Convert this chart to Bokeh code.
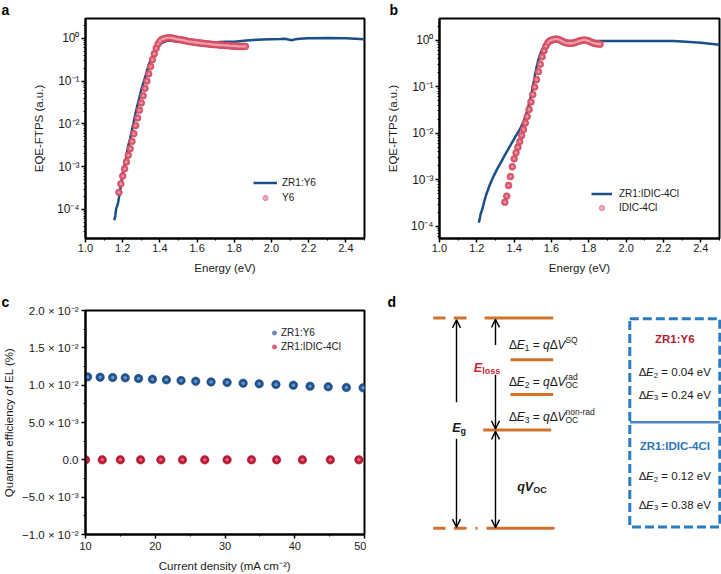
from bokeh.plotting import figure
from bokeh.models import (Range1d, FixedTicker, CustomJSTickFormatter, NumeralTickFormatter,
                          Legend, LegendItem, Arrow, OpenHead)
from bokeh.layouts import row, column
from bokeh.core.properties import value
from bokeh.embed import file_html
from bokeh.resources import INLINE

FONT = "Liberation Sans"

# ---------------- data ----------------
# panel a : ZR1:Y6 (line) and Y6 (markers); values are log10(EQE-FTPS)
a_zr1_E = [1.155, 1.160, 1.165, 1.170, 1.175, 1.180, 1.190, 1.200, 1.210, 1.220, 1.230, 1.240,
           1.250, 1.260, 1.270, 1.280, 1.290, 1.300, 1.310, 1.320, 1.330, 1.340, 1.350, 1.360,
           1.370, 1.380, 1.390, 1.400, 1.410, 1.420, 1.440, 1.460, 1.480, 1.500, 1.550, 1.600,
           1.700, 1.750, 1.800, 1.850, 1.900, 1.950, 2.000, 2.050, 2.070, 2.090, 2.110, 2.130,
           2.150, 2.200, 2.300, 2.400, 2.450, 2.500]
a_zr1_log = [-4.25, -4.15, -3.98, -3.92, -3.85, -3.72, -3.45, -3.15, -2.96, -2.76, -2.50, -2.35,
             -2.14, -1.94, -1.73, -1.55, -1.38, -1.20, -1.06, -0.92, -0.77, -0.62, -0.52, -0.43,
             -0.35, -0.27, -0.20, -0.15, -0.11, -0.09, -0.06, -0.06, -0.07, -0.08, -0.09, -0.09,
             -0.09, -0.08, -0.08, -0.06, -0.04, -0.03, -0.02, -0.015, -0.01, -0.03, -0.045, -0.02,
             -0.01, 0.00, 0.005, 0.00, -0.01, -0.025]
a_y6_E = [1.18, 1.19, 1.20, 1.21, 1.22, 1.23, 1.24, 1.25, 1.26, 1.27, 1.28, 1.29, 1.30, 1.31,
          1.32, 1.33, 1.34, 1.35, 1.36, 1.37, 1.38, 1.39, 1.40, 1.41, 1.42, 1.43, 1.44, 1.45,
          1.46, 1.47, 1.48, 1.49, 1.50, 1.51, 1.52, 1.53, 1.54, 1.55, 1.56, 1.57, 1.58, 1.59,
          1.60, 1.61, 1.62, 1.63, 1.64, 1.65, 1.66, 1.67, 1.68, 1.69, 1.70, 1.71, 1.72, 1.73,
          1.74, 1.75, 1.76, 1.77, 1.78, 1.79, 1.80, 1.81, 1.82, 1.83, 1.84, 1.85, 1.86]
a_y6_log = [-3.60, -3.40, -3.22, -3.05, -2.89, -2.73, -2.58, -2.41, -2.23, -2.04, -1.86, -1.68,
            -1.51, -1.34, -1.17, -1.00, -0.83, -0.66, -0.50, -0.36, -0.23, -0.13, -0.07, -0.03,
            -0.01, 0.00, 0.01, 0.01, 0.01, 0.00, -0.01, -0.02, -0.03, -0.03, -0.04, -0.05,
            -0.06, -0.07, -0.08, -0.08, -0.09, -0.10, -0.10, -0.11, -0.11, -0.12, -0.12, -0.13,
            -0.13, -0.14, -0.14, -0.15, -0.15, -0.15, -0.16, -0.16, -0.16, -0.17, -0.17, -0.17,
            -0.18, -0.18, -0.18, -0.18, -0.19, -0.19, -0.19, -0.19, -0.19]

# panel b : ZR1:IDIC-4Cl (line) and IDIC-4Cl (markers); log10(EQE-FTPS)
b_zr1_E = [1.210, 1.215, 1.220, 1.230, 1.240, 1.250, 1.270, 1.290, 1.310, 1.330, 1.350, 1.370,
           1.390, 1.410, 1.430, 1.450, 1.470, 1.490, 1.500, 1.510, 1.520, 1.530, 1.540, 1.550,
           1.560, 1.570, 1.580, 1.600, 1.650, 1.700, 1.800, 1.900, 2.000, 2.100, 2.200, 2.250,
           2.300, 2.400, 2.500]
b_zr1_log = [-3.92, -3.85, -3.74, -3.62, -3.46, -3.32, -3.10, -2.92, -2.76, -2.62, -2.47, -2.33,
             -2.19, -2.05, -1.92, -1.76, -1.52, -1.20, -1.00, -0.78, -0.58, -0.42, -0.30, -0.20,
             -0.13, -0.08, -0.05, -0.02, -0.02, -0.02, -0.02, -0.02, -0.02, -0.02, -0.02, -0.02,
             -0.03, -0.06, -0.10]
b_idic_E = [1.35, 1.36, 1.37, 1.38, 1.39, 1.40, 1.41, 1.42, 1.43, 1.44, 1.45, 1.46, 1.47, 1.48,
            1.49, 1.50, 1.51, 1.52, 1.53, 1.54, 1.55, 1.56, 1.57, 1.58, 1.59, 1.60, 1.61, 1.62,
            1.63, 1.64, 1.65, 1.66, 1.67, 1.68, 1.69, 1.70, 1.71, 1.72, 1.73, 1.74, 1.75, 1.76,
            1.77, 1.78, 1.79, 1.80, 1.81, 1.82, 1.83, 1.84, 1.85, 1.86]
b_idic_log = [-3.48, -3.35, -3.12, -2.93, -2.72, -2.55, -2.42, -2.30, -2.18, -2.05, -1.92, -1.78,
              -1.64, -1.49, -1.33, -1.17, -1.01, -0.85, -0.68, -0.52, -0.36, -0.23, -0.13, -0.06,
              -0.02, 0.00, 0.01, 0.02, 0.02, 0.01, -0.01, -0.03, -0.05, -0.06, -0.07, -0.07,
              -0.07, -0.06, -0.05, -0.03, -0.02, -0.01, 0.00, 0.00, -0.01, -0.02, -0.04, -0.06,
              -0.07, -0.08, -0.08, -0.09]

# panel c : quantum efficiency of EL (%) vs current density (mA cm-2)
c_J_y6 = [10.3, 12.1, 13.9, 15.7, 17.6, 19.6, 21.6, 23.7, 25.8, 28.0, 30.3, 32.6, 34.9, 37.3,
          39.8, 42.2, 44.8, 47.4, 49.8]
c_qe_y6 = [0.01111, 0.01107, 0.01102, 0.01098, 0.01089, 0.01080, 0.01071, 0.01062, 0.01053,
           0.01044, 0.01036, 0.01027, 0.01018, 0.01009, 0.01000, 0.00987, 0.00978, 0.00969, 0.00964]
c_J_idic = [10.0, 12.4, 15.0, 17.9, 20.8, 23.9, 27.1, 30.3, 33.8, 37.4, 41.1, 45.1, 49.2]
c_qe_idic = [0.0, 0.0, 0.0, 0.0, 0.0, 0.0, 0.0, 0.0, 0.0, 0.0, 0.0, 0.0, 0.0]

# ticks
ab_xticks = [1.0, 1.2, 1.4, 1.6, 1.8, 2.0, 2.2, 2.4]
ab_xminor = [1.1, 1.3, 1.5, 1.7, 1.9, 2.1, 2.3, 2.5]
ab_yticks = [1e-4, 1e-3, 1e-2, 1e-1, 1.0]
ab_yminor = [m * d for d in [1e-5, 1e-4, 1e-3, 1e-2, 1e-1, 1.0] for m in [2, 3, 4, 5, 6, 7, 8, 9]]
c_xticks = [10, 20, 30, 40, 50]
c_xminor = [15, 25, 35, 45]
c_yticks = [-0.01, -0.005, 0.0, 0.005, 0.01, 0.015, 0.02]
c_yminor = [-0.0075, -0.0025, 0.0025, 0.0075, 0.0125, 0.0175]

# panel d : energy-loss diagram texts / values
d_box1_title = "ZR1:Y6"
d_box2_title = "ZR1:IDIC-4Cl"
d_y6_dE = ["0.04", "0.24"]
d_idic_dE = ["0.12", "0.38"]

BLUE = "#1b4f87"
PINK = "#dc5a6f"
PINK_IN = "#f0a3af"
CBLUE = "#1f548f"
CBLUE_IN = "#6a95c8"
CRED = "#bf1a35"
CRED_IN = "#ea6478"
ORANGE = "#d2722f"
BOXBLUE = "#2a7cc0"

SUP = {"-": "\u207b", "0": "\u2070", "1": "\u00b9", "2": "\u00b2", "3": "\u00b3", "4": "\u2074",
       "5": "\u2075", "6": "\u2076", "7": "\u2077", "8": "\u2078", "9": "\u2079"}
SUP_JS = "const sup = {" + ",".join('"%s":"%s"' % (k, v) for k, v in SUP.items()) + "};"

log_fmt = CustomJSTickFormatter(code=SUP_JS + """
const e = Math.round(Math.log10(tick));
return "10" + String(e).split("").map(c => sup[c]).join("");
""")

sci_fmt = CustomJSTickFormatter(code=SUP_JS + """
if (Math.abs(tick) < 1e-12) { return "0.0"; }
const a = Math.abs(tick);
const e = Math.floor(Math.log10(a) + 1e-9);
const m = tick / Math.pow(10, e);
const ms = (m < 0 ? "\u2212" : "") + Math.abs(m).toFixed(1);
return ms + " \u00d7 10" + String(e).split("").map(c => sup[c]).join("");
""")


def style(p):
    p.xgrid.visible = False
    p.ygrid.visible = False
    p.outline_line_color = "black"
    p.outline_line_width = 2
    p.outline_line_alpha = 1
    for ax in p.axis:
        ax.axis_line_width = 2
        ax.major_tick_line_width = 1.5
        ax.minor_tick_line_width = 1
        ax.major_tick_out = 4
        ax.major_tick_in = 0
        ax.minor_tick_out = 2
        ax.minor_tick_in = 0
        ax.major_label_text_font = FONT
        ax.major_label_text_font_size = "11px"
        ax.major_label_text_color = "#1a1a1a"
        ax.axis_label_text_font = FONT
        ax.axis_label_text_font_size = "11.5px"
        ax.axis_label_text_font_style = "normal"
        ax.axis_label_text_color = "#1a1a1a"


def letter_title(p, offset):
    t = p.title
    t.align = "left"
    t.offset = offset
    t.standoff = 0
    t.text_font = FONT
    t.text_font_size = "14px"
    t.text_font_style = "bold"
    t.text_color = "black"
    t.text_line_height = 0.7
    t.vertical_align = "middle"


def make_legend(p, items, loc, gw, gh, spacing, standoff):
    leg = Legend(items=items, location=loc, orientation="vertical", padding=0, margin=0,
                 spacing=spacing, glyph_width=gw, glyph_height=gh, label_height=gh,
                 label_standoff=standoff, label_text_font=FONT, label_text_font_size="10px",
                 label_text_color="#1a1a1a", border_line_alpha=0, background_fill_alpha=0)
    p.add_layout(leg)


ROW1_H, ROW2_H = 290, 284
COL1_W, COL2_W = 366, 355
C1_L, C1_R = 85, 2          # column-1 frame borders (a, c)
R1_T, R1_B = 12, 52         # row-1 frame borders (a, b)
R2_T, R2_B = 20, 37         # row-2 frame borders (c, d)


def eqe_panel(w, bl, br, yr, line_E, line_log, pts_E, pts_log, line_lab, pts_lab,
              leg_loc, leg_sp, leg_gw, leg_so, letter, letter_off):
    p = figure(width=w, height=ROW1_H, output_backend="svg", toolbar_location=None, title=letter,
               y_axis_type="log", x_range=Range1d(1.0, 2.5), y_range=Range1d(*yr),
               min_border_left=bl, min_border_right=br, min_border_top=R1_T,
               min_border_bottom=R1_B)
    style(p)
    p.xaxis.ticker = FixedTicker(ticks=ab_xticks, minor_ticks=ab_xminor)
    p.xaxis.formatter = NumeralTickFormatter(format="0.0")
    p.xaxis.major_label_standoff = 1
    p.xaxis.axis_label_standoff = 7
    p.yaxis.ticker = FixedTicker(ticks=ab_yticks, minor_ticks=ab_yminor)
    p.yaxis.formatter = log_fmt
    p.yaxis.major_label_text_font_size = "12px"
    p.yaxis.major_label_standoff = 2
    p.yaxis.axis_label_standoff = 9
    p.xaxis.axis_label = "Energy (eV)"
    p.yaxis.axis_label = "EQE-FTPS (a.u.)"
    ln = p.line(line_E, [10 ** v for v in line_log], line_color=BLUE, line_width=2.5)
    s1 = p.scatter(pts_E, [10 ** v for v in pts_log], size=6.8, fill_color=PINK,
                   line_color="#c9455b", line_width=0.6)
    s2 = p.scatter(pts_E, [10 ** v for v in pts_log], size=2.4, fill_color=PINK_IN,
                   line_color=None)
    make_legend(p, [LegendItem(label=line_lab, renderers=[ln]),
                    LegendItem(label=pts_lab, renderers=[s1, s2])],
                leg_loc, leg_gw, 13, leg_sp, leg_so)
    letter_title(p, letter_off)
    return p


pa = eqe_panel(COL1_W, C1_L, C1_R, (2.1e-5, 2.9), a_zr1_E, a_zr1_log, a_y6_E, a_y6_log,
               "ZR1:Y6", "Y6", (168, 34), 2, 24, 5, "a", -84)
pb = eqe_panel(COL2_W, 73, 2, (5.5e-5, 2.9), b_zr1_E, b_zr1_log, b_idic_E, b_idic_log,
               "ZR1:IDIC-4Cl", "IDIC-4Cl", (152, 24), 1, 21, 7, "b", -50)

# ---------------- panel c ----------------
pc = figure(width=COL1_W, height=ROW2_H, output_backend="svg", toolbar_location=None, title="c",
            x_range=Range1d(10, 50), y_range=Range1d(-0.01, 0.02),
            min_border_left=C1_L, min_border_right=C1_R, min_border_top=R2_T,
            min_border_bottom=R2_B)
style(pc)
pc.xaxis.ticker = FixedTicker(ticks=c_xticks, minor_ticks=c_xminor)
pc.xaxis.major_label_standoff = 3
pc.xaxis.axis_label_standoff = 7
pc.yaxis.ticker = FixedTicker(ticks=c_yticks, minor_ticks=c_yminor)
pc.yaxis.formatter = sci_fmt
pc.yaxis.major_label_text_font_size = "11.5px"
pc.yaxis.major_label_standoff = 3
pc.yaxis.axis_label_standoff = 4
pc.xaxis.axis_label = "Current density (mA cm\u207b\u00b2)"
pc.yaxis.axis_label = "Quantum efficiency of EL (%)"
b1 = pc.scatter(c_J_y6, c_qe_y6, size=8.5, fill_color=CBLUE, line_color="#163f6e", line_width=0.5)
b2 = pc.scatter(c_J_y6, c_qe_y6, size=3.5, fill_color=CBLUE_IN, line_color=None)
r1 = pc.scatter(c_J_idic, c_qe_idic, size=8.5, fill_color=CRED, line_color="#8e1026", line_width=0.5)
r2 = pc.scatter(c_J_idic, c_qe_idic, size=3.5, fill_color=CRED_IN, line_color=None)
make_legend(pc, [LegendItem(label="ZR1:Y6", renderers=[b1, b2]),
                 LegendItem(label="ZR1:IDIC-4Cl", renderers=[r1, r2])],
            (184, 181), 10, 13, 1, 2)
letter_title(pc, -84)

# ---------------- panel d ----------------
# frame spans the row-2 frame height; diagram units map 1:1 to pixels
pd = figure(width=COL2_W, height=ROW2_H, output_backend="svg", toolbar_location=None, title="d",
            x_range=Range1d(6, 361), y_range=Range1d(ROW2_H - R2_B, R2_T),
            x_axis_type=None, y_axis_type=None, min_border_left=0, min_border_right=0,
            min_border_top=R2_T, min_border_bottom=R2_B)
pd.outline_line_color = None
pd.grid.visible = False
letter_title(pd, 21)

# energy levels (diagram units)
lvl_x0 = [72.7, 93.3, 124.0, 150.0, 150.0, 122.7, 72.7, 93.3, 115.0, 126.0]
lvl_x1 = [85.0, 106.0, 192.7, 192.7, 192.7, 190.7, 85.0, 106.0, 117.0, 194.0]
lvl_y = [27.7, 27.7, 27.7, 70.0, 105.0, 141.0, 240.7, 240.7, 240.7, 240.7]
pd.segment(lvl_x0, lvl_y, lvl_x1, lvl_y, line_color=ORANGE, line_width=3)

# arrows: (x_start, y_start, x_end, y_end, double headed)
arrows = [(96, 113, 96, 29.5, False), (96, 150, 96, 239.5, False),
          (135, 55, 135, 29.0, False), (135, 85, 135, 140.0, False),
          (135, 142.5, 135, 240.0, True)]
for xs, ys, xe, ye, both in arrows:
    pd.add_layout(Arrow(end=OpenHead(size=8, line_width=1.4, line_color="black"),
                        start=OpenHead(size=8, line_width=1.4, line_color="black") if both else None,
                        x_start=xs, y_start=ys, x_end=xe, y_end=ye,
                        line_width=1.4, line_color="black"))

# box
pd.quad(left=[269.3], right=[359.3], top=[28.3], bottom=[239.3], fill_color=None,
        line_color=BOXBLUE, line_width=3, line_dash="9 4")
pd.segment([269.3], [133.3], [359.3], [133.3], line_color="#4d85c5", line_width=2.5)

W_REG = {' ': 278, '\u0394': 640, '=': 584, 'E': 667, 'q': 556, 'V': 667, 'S': 667, 'Q': 778,
         'O': 778, 'C': 722, 'r': 333, 'a': 556, 'd': 556, 'n': 556, 'o': 556, '-': 333,
         '.': 278, 'e': 556, 'g': 556, 'l': 222, 's': 500, ':': 278, 'Z': 611, 'R': 722,
         'Y': 667, 'I': 278, 'D': 722}
W_BOLD = {'q': 611, 'g': 611, 'o': 611, 'l': 278, 's': 556, ':': 333}
SUP_DY = -5.5
SUB_DY = 3.0


def tw(s, size, bold):
    t = 0
    for ch in s:
        w = W_BOLD.get(ch) if bold else None
        if w is None:
            w = W_REG.get(ch, 556)
        t += w
    return t / 1000.0 * size


def rich(x0, y0, parts, base=11.5, script=8.0, color="#1a1a1a", center=False):
    items = []
    x = 0.0
    last_x, last_w = 0.0, 0.0
    for t, kind, st in parts:
        size = base if kind == "n" else script
        w = tw(t, size, "bold" in st)
        if kind == "stack":
            xx, dy = last_x, SUB_DY
            x = last_x + max(last_w, w)
        else:
            xx = x
            dy = {"n": 0.0, "sup": SUP_DY, "sub": SUB_DY}[kind]
            last_x, last_w = x, w
            x += w
        lead = len(t) - len(t.lstrip(" "))
        xx += tw(" " * lead, size, "bold" in st)
        items.append((xx, dy, t.strip(" "), size, st))
    off = -x / 2.0 if center else 0.0
    for xx, dy, t, size, st in items:
        pd.text(x=[x0 + off + xx], y=[y0 + dy], text=[t], text_font=value(FONT),
                text_font_size=value("%.1fpx" % size), text_font_style=st,
                text_color=color, text_align="left", text_baseline="alphabetic")


rich(148.5, 55.0, [("\u0394", "n", "normal"), ("E", "n", "italic"), ("1", "sub", "normal"),
                   (" = ", "n", "normal"), ("q", "n", "italic"), ("\u0394", "n", "normal"),
                   ("V", "n", "italic"), ("SQ", "sup", "normal")], base=12.0, script=8.5)
rich(148.5, 92.5, [("\u0394", "n", "normal"), ("E", "n", "italic"), ("2", "sub", "normal"),
                   (" = ", "n", "normal"), ("q", "n", "italic"), ("\u0394", "n", "normal"),
                   ("V", "n", "italic"), ("rad", "sup", "normal"), ("OC", "stack", "normal")],
     base=12.0, script=8.5)
rich(148.5, 128.0, [("\u0394", "n", "normal"), ("E", "n", "italic"), ("3", "sub", "normal"),
                    (" = ", "n", "normal"), ("q", "n", "italic"), ("\u0394", "n", "normal"),
                    ("V", "n", "italic"), ("non-rad", "sup", "normal"), ("OC", "stack", "normal")],
     base=12.0, script=8.5)
rich(91.7, 139.5, [("E", "n", "bold italic"), ("g", "sub", "bold")], base=12.5, script=9.0)
rich(113.3, 78.3, [("E", "n", "bold italic"), ("loss", "sub", "bold")], base=12.5, script=9.0,
     color="#cc1f36")
rich(156.7, 199.3, [("q", "n", "bold italic"), ("V", "n", "bold italic"), ("OC", "sub", "bold")],
     base=12.5, script=9.0)

bx = 314.3
rich(bx, 49.0, [(d_box1_title, "n", "bold")], color="#b51a2e", center=True)
rich(bx, 82.7, [("\u0394", "n", "normal"), ("E", "n", "italic"), ("2", "sub", "normal"),
                (" = " + d_y6_dE[0] + " eV", "n", "normal")], center=True)
rich(bx, 105.5, [("\u0394", "n", "normal"), ("E", "n", "italic"), ("3", "sub", "normal"),
                 (" = " + d_y6_dE[1] + " eV", "n", "normal")], center=True)
rich(bx, 157.5, [(d_box2_title, "n", "bold")], color="#2b74b7", center=True)
rich(bx, 188.0, [("\u0394", "n", "normal"), ("E", "n", "italic"), ("2", "sub", "normal"),
                 (" = " + d_idic_dE[0] + " eV", "n", "normal")], center=True)
rich(bx, 217.0, [("\u0394", "n", "normal"), ("E", "n", "italic"), ("3", "sub", "normal"),
                 (" = " + d_idic_dE[1] + " eV", "n", "normal")], center=True)

layout = column(row(pa, pb, spacing=0), row(pc, pd, spacing=0), spacing=0)

with open("out.html", "w", encoding="utf-8") as f:
    f.write(file_html(layout, INLINE))
